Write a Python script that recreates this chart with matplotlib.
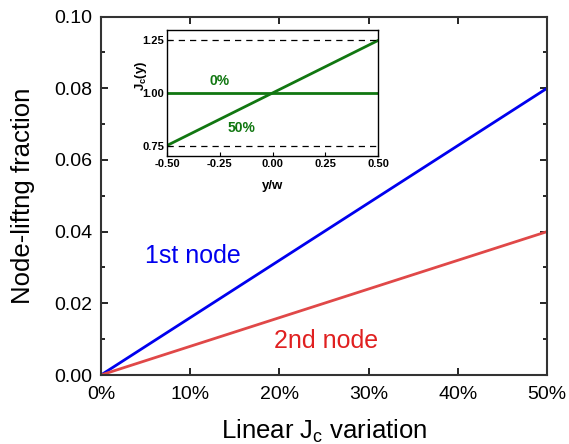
import matplotlib
matplotlib.use("Agg")
import matplotlib.pyplot as plt
from matplotlib.ticker import MultipleLocator, FuncFormatter

plt.rcParams['font.family'] = ['Liberation Sans', 'DejaVu Sans']

# main chart data
variation = [0.0, 0.5]
node1 = [0.0, 0.08]
node2 = [0.0, 0.04]
x_ticks = [0.0, 0.1, 0.2, 0.3, 0.4, 0.5]

# inset data: Jc(y) profiles
y_w = [-0.5, 0.5]
jc_0 = [1.0, 1.0]
jc_50 = [0.75, 1.25]
ref_levels = [0.75, 1.25]

fig = plt.figure(figsize=(5.69, 4.44), dpi=100)
ax = fig.add_axes([0.1775, 0.1554, 0.784, 0.8074])

ax.plot(variation, node1, color="#0000ee", lw=2)
ax.plot(variation, node2, color="#e04848", lw=2)
ax.text(0.1035, 0.0331, "1st node", color="#0000ee", fontsize=18, ha="center", va="center")
ax.text(0.2525, 0.0094, "2nd node", color="#e02020", fontsize=18, ha="center", va="center")

ax.set_xlim(0, 0.5)
ax.set_ylim(0, 0.1)
ax.set_xticks(x_ticks)
ax.xaxis.set_major_formatter(FuncFormatter(lambda v, p: f"{v * 100:.0f}%"))
ax.yaxis.set_major_locator(MultipleLocator(0.02))
ax.yaxis.set_minor_locator(MultipleLocator(0.01))
ax.yaxis.set_major_formatter(FuncFormatter(lambda v, p: f"{v:.2f}"))
ax.tick_params(which="both", direction="in", top=True, right=True, labelsize=14, width=1.2)
ax.tick_params(which="major", length=5)
ax.tick_params(which="minor", length=3)
ax.tick_params(axis="x", pad=8)
ax.tick_params(axis="y", pad=6)
for s in ax.spines.values():
    s.set_linewidth(1.5)
    s.set_color("#333333")
ax.set_xlabel("Linear J$_\\mathregular{c}$ variation", fontsize=18.5, labelpad=10)
ax.set_ylabel("Node-liftng fraction", fontsize=18.5, labelpad=14)

# inset
ins = fig.add_axes([0.2935, 0.6486, 0.371, 0.284])
ins.plot(y_w, jc_0, color="#117711", lw=2)
ins.plot(y_w, jc_50, color="#117711", lw=2)
for lvl in ref_levels:
    ins.axhline(lvl, color="black", lw=0.9, ls=(0, (5, 4)))
ins.text(-0.25, 1.057, "0%", color="#117711", fontsize=10, fontweight="bold", ha="center", va="center")
ins.text(-0.145, 0.835, "50%", color="#117711", fontsize=10, fontweight="bold", ha="center", va="center")
ins.set_xlim(-0.5, 0.5)
ins.set_ylim(0.7, 1.3)
ins.set_xticks([-0.5, -0.25, 0.0, 0.25, 0.5])
ins.set_yticks([0.75, 1.0, 1.25])
ins.xaxis.set_major_formatter(FuncFormatter(lambda v, p: f"{v:.2f}"))
ins.yaxis.set_major_formatter(FuncFormatter(lambda v, p: f"{v:.2f}"))
ins.tick_params(direction="in", labelsize=8, length=3, pad=2)
for lab in ins.get_xticklabels() + ins.get_yticklabels():
    lab.set_fontweight("bold")
for s in ins.spines.values():
    s.set_linewidth(1.0)
ins.set_xlabel("y/w", fontsize=9.5, fontweight="bold", labelpad=8)
ins.set_ylabel("J$_\\mathregular{c}$(y)", fontsize=9.5, fontweight="bold")
ins.yaxis.set_label_coords(-0.085, 0.64)

fig.savefig("out.png", dpi=100)
